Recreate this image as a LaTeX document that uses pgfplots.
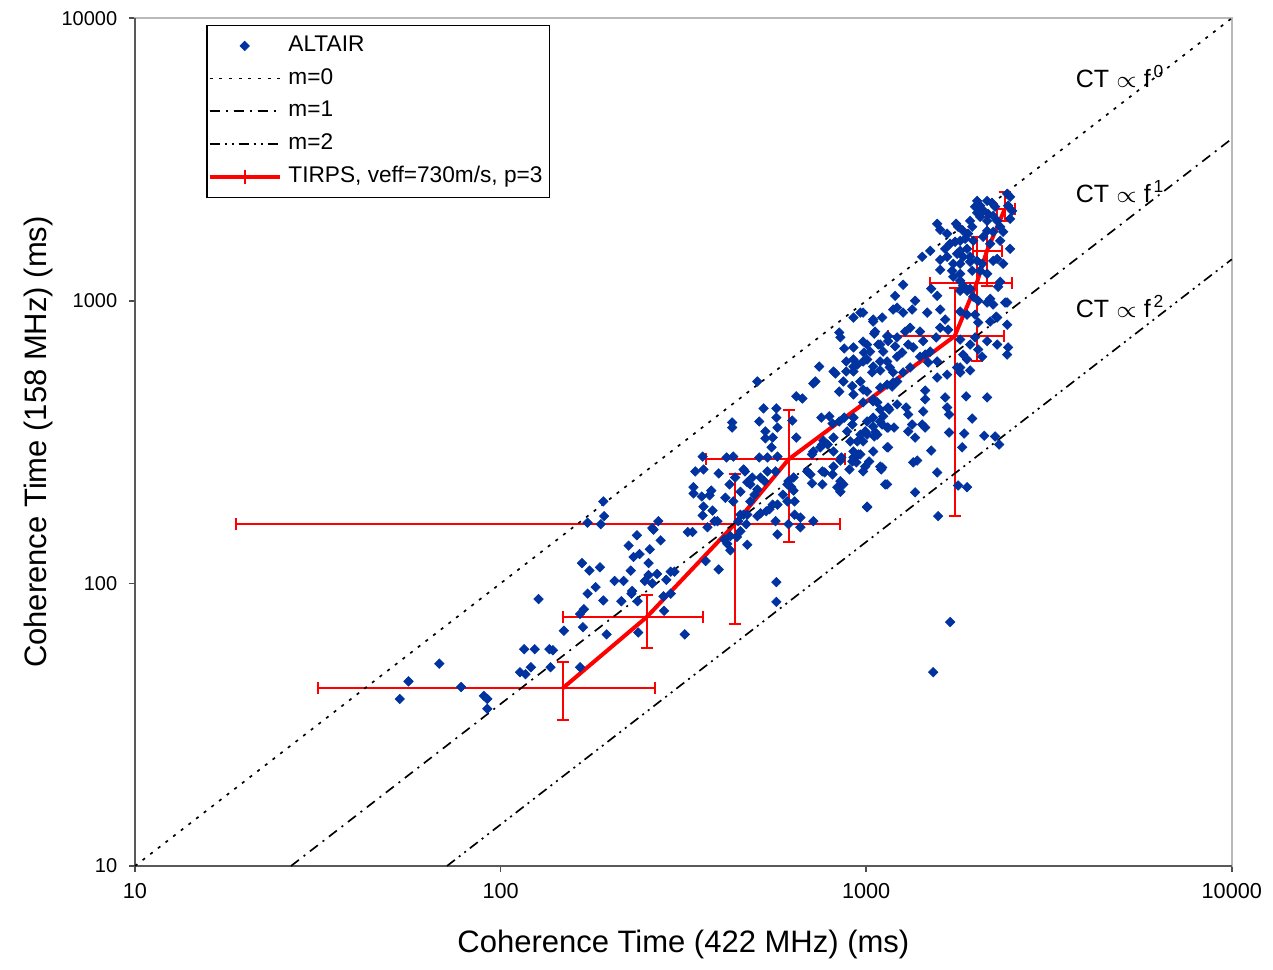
\documentclass[border=0pt]{standalone}
\usepackage{fontspec}
\setmainfont{Liberation Sans}
\usepackage{pgfplots}
\pgfplotsset{compat=1.18}
\definecolor{altair}{HTML}{0033A0}
\pgfplotsset{
  lineimg/.style={legend image code/.code={\draw[##1] (0cm,0cm) -- (0.74cm,0cm);}},
  markimg/.style={legend image code/.code={\draw[##1] plot coordinates {(0.37cm,0cm)};}},
}
\begin{document}
\begin{tikzpicture}
\begin{axis}[
  name=ax,
  xmode=log, ymode=log,
  xmin=10, xmax=10000, ymin=10, ymax=10000,
  width=329.1pt, height=254.4pt, scale only axis,
  clip=false,
  xtick={10,100,1000,10000}, ytick={10,100,1000,10000},
  xticklabels={10,100,1000,10000}, yticklabels={10,100,1000,10000},
  xminorticks=false, yminorticks=false,
  tick pos=left, tick align=outside,
  major tick length=1.8pt,
  tick style={black!70, line width=0.5pt},
  axis line style={draw=gray!55, line width=0.6pt},
  xticklabel style={font=\fontsize{6.5}{7}\selectfont},
  yticklabel style={font=\fontsize{6}{7}\selectfont},
  xlabel={Coherence Time (422 MHz) (ms)},
  ylabel={Coherence Time (158 MHz) (ms)},
  label style={font=\fontsize{9.3}{11}\selectfont},
  xlabel style={at={(axis description cs:0.5,-0.092)}, anchor=center},
  ylabel style={at={(axis description cs:-0.088,0.5)}, anchor=center},
  legend style={at={(axis description cs:0.065,0.992)}, anchor=north west,
    draw=black, line width=0.4pt, font=\fontsize{6.8}{8}\selectfont,
    legend cell align=left, row sep=-0.4pt, inner xsep=0.2pt, inner ysep=1pt},
]
% frame: dark left/bottom
\draw[black!65, line width=0.7pt] (rel axis cs:0,1) -- (rel axis cs:0,0) -- (rel axis cs:1,0);

% TIRPS model with error bars (drawn under the scatter)
\addplot[red, line width=1.2pt, forget plot,
  error bars/.cd, x dir=both, x explicit, y dir=both, y explicit,
  error bar style={red, line width=0.6pt},
  error mark options={red, line width=0.6pt, mark size=1.8pt, rotate=90}]
coordinates {
(148,42.6) += (116,10.1) -= (116.3,9.8)
(251,76) += (106,14.9) -= (103,17)
(437,162) += (410,81.6) -= (418.1,90.2)
(614,275) += (260,135) -= (250,135)
(1746,750) += (632,358) -= (600,577)
(2006,1154) += (494,525) -= (513,543)
(2138,1498) += (211,477) -= (182,372)
(2393,2109) += (154,313) -= (118,197)
};

% ALTAIR measurements
\addplot[only marks, mark=square*, mark size=1.0pt,
  mark options={rotate=45, fill=altair, draw=altair, line width=0.2pt}, markimg]
coordinates {
(53,39)(56,45)(68,52)(78,43)(90,40)(92,39)(92,36)(127,88)(116,58.5)(124,58.5)(136,58.5)(139,58)
(113,48.5)(117,47.7)(121,50.5)(137,50.5)(149,68)(165,50.5)(167,118)(175,111)(187,114)(173,92)
(182,97)(169,81)(165,78)(168,70)(191,87)(195,66)(173,164)(188,162)(192,173)(191,195)(205,102)
(217,102)(214,86.5)(227,111)(228,92)(229,94)(237,86.5)(238,67)(231,124)(240,127)(254,118)
(256,132)(224,136)(236,148)(260,157)(270,166)(274,142)(248,102)(254,107)(260,100)(268,108)
(284,103)(292,110)(299,110)(279,90)(292,92)(280,80)
(262,155)(325,152)(335,152)(368,158)(385,166)(392,166)(357,174)(380,181)(359,187)(337,208)
(337,219)(355,203)(373,205)(377,213)(341,249)(359,253)(395,245)(357,281)(415,279)(433,281)
(423,224)(412,201)(433,195)(453,175)(447,166)(462,253)(488,237)(482,224)(514,237)(510,279)
(537,279)(572,281)(537,249)(565,249)(551,303)(555,328)(530,326)(530,345)(510,374)(524,416)
(568,416)(568,386)(572,356)(628,377)(644,328)(430,356)(430,371)(504,518)(644,459)(669,451)
(726,518)(717,510)(744,585)(844,477)(824,553)(814,562)(866,518)(850,742)(844,772)(871,678)
(923,684)(882,610)(923,620)(946,595)(981,610)(981,717)(1006,700)(986,656)(1025,661)(1052,765)
(1045,858)(1106,872)(923,872)(964,908)(923,585)(923,562)(882,562)(916,499)(964,518)(981,485)
(1038,558)(1045,585)(1092,567)(1092,610)(1141,610)(1160,581)(1185,558)(1215,518)(1177,497)
(1141,505)(1092,700)(1113,661)(1141,750)(1148,720)(1215,946)(1200,1041)(1200,690)(1215,634)
(923,466)(981,437)(1045,448)(1072,437)(1092,412)(1156,412)(1113,390)(1045,386)(1006,374)
(1092,374)(1141,356)(1192,356)(994,345)(1052,331)(1058,343)(964,336)(946,318)(905,318)
(923,293)(964,286)(923,279)(940,268)(994,259)(1092,259)(1099,253)(1141,303)(900,253)(850,230)
(834,219)(809,243)(770,247)(759,224)(814,259)(850,272)(855,279)(814,293)(785,310)(759,310)
(749,303)(764,320)(717,293)(814,328)(887,345)(917,365)(923,386)(871,386)(844,374)(793,390)
(809,368)(754,386)(711,286)(690,249)(704,243)(711,226)(759,249)(609,224)(613,230)(633,237)
(624,219)(633,213)(637,195)(637,175)(609,195)(592,206)(572,190)(555,190)(533,180)(544,183)
(504,173)(514,177)(473,175)(482,195)(495,206)(504,215)(527,230)(466,249)(473,228)(438,237)
(453,211)(462,175)(470,162)(453,153)(425,147)(443,146)(409,143)(417,138)(572,149)(565,166)
(613,162)(661,158)(661,171)(717,166)(1006,187)(1127,224)(850,211)(866,224)(917,270)(952,286)
(2011,2257)(2050,2169)(2142,2257)(2209,2220)(2252,2152)(2090,2081)(2011,2047)(2050,1981)
(2155,2031)(2225,1997)(2142,1918)(2282,1918)(1986,2152)(2430,2391)(2475,2332)(2445,2169)
(2507,2081)(2475,1950)(2325,1828)(2370,1754)(1564,1873)(1594,1783)(1665,1727)(1762,1873)
(1785,1828)(1842,1768)(1925,1918)(1950,1828)(1900,1727)(1865,1657)(1808,1630)(1751,1617)
(1697,1591)(1808,1502)(1888,1527)(1963,1630)(1842,1431)(1925,1431)(1773,1467)(1808,1352)
(1730,1352)(1718,1277)(1808,1246)(1925,1374)(2011,1385)(2077,1352)(1950,1277)(2050,1277)
(2142,1246)(2225,1385)(2282,1407)(2090,1684)(2225,1754)(2142,1768)(2184,1591)(2325,1630)
(2475,1527)(2370,1352)(1645,1527)(1665,1431)(1594,1396)(1594,1287)(1423,1431)(1497,1502)
(1730,1216)(1808,1177)(1842,1130)(1888,1085)(1925,1103)(1963,1033)(2025,1000)(2142,986)
(2225,970)(2325,1167)(2295,1121)(2400,986)(1262,1139)(1185,931)(1262,908)(1336,931)
(1361,1000)(1506,1103)(1564,1041)(1469,908)(1594,931)(1645,858)(1676,790)(1594,803)
(1554,742)(1497,661)(1404,778)(1432,720)(1319,803)(1278,778)(1215,742)(1148,750)(1303,700)
(1345,684)(1254,656)(1404,634)(1450,645)(1478,605)(1564,610)(1058,778)(1045,844)(981,908)
(1079,700)(1006,620)(1808,916)(1888,893)(1808,1085)(1986,893)(2025,838)(2184,1016)
(2184,844)(2282,872)(2430,823)(2142,720)(2282,700)(2445,684)(2430,645)(1925,700)(1986,742)
(1808,729)(1842,645)(1888,620)(2025,672)(2077,634)(1808,581)(1773,581)(2430,986)(2267,879)
(1645,455)(1877,459)(2142,455)(1564,535)(1665,548)(1808,558)(1925,567)(1665,419)(1686,396)
(1950,383)(1450,481)(1450,448)(1432,406)(1286,419)(1303,396)(1336,365)(1423,365)(1450,356)
(1303,345)(1361,328)(1686,342)(1854,339)(2103,333)(2252,331)(2310,310)(1831,303)(1506,295)
(1345,268)(1379,272)(1564,247)(1106,257)(981,249)(1148,303)(1045,293)(1019,270)(1141,224)
(1361,210)(1785,222)(1888,219)(1006,186)(1573,173)(1045,359)(1106,365)(1148,356)(1072,336)
(981,318)(1006,336)(1262,558)(1319,581)(1185,514)(1092,493)(1045,441)(1006,477)(1148,419)
(1215,430)
(1525,48.5)(1697,73)(568,101)(568,86)(364,120)(395,112)(425,131)(473,137)(319,66)
};
\addlegendentry{ALTAIR}

% CT proportional to f^m, m = 0, 1, 2  (ratio 158/422)
\addplot[black, line width=0.5pt, dash pattern=on 0.9pt off 2pt, lineimg]
coordinates {(10,10) (10000,10000)};
\addlegendentry{m=0}
\addplot[black, line width=0.5pt, dash pattern=on 3pt off 1.8pt on 0.6pt off 1.8pt, lineimg]
coordinates {(26.71,10) (10000,3744)};
\addlegendentry{m=1}
\addplot[black, line width=0.5pt, dash pattern=on 3pt off 1.5pt on 0.6pt off 1.5pt on 0.6pt off 1.5pt, lineimg]
coordinates {(71.34,10) (10000,1402)};
\addlegendentry{m=2}

\addlegendimage{legend image code/.code={
  \draw[red, line width=1.2pt] (0cm,0cm) -- (0.74cm,0cm);
  \draw[red, line width=0.6pt] (0.37cm,-2.2pt) -- (0.37cm,2.2pt);}}
\addlegendentry{TIRPS, veff=730m/s, p=3}

\node[anchor=west, inner sep=0pt, font=\fontsize{7.5}{9}\selectfont] at (axis cs:3730,6200) {CT $\propto$ f\textsuperscript{\,0}};
\node[anchor=west, inner sep=0pt, font=\fontsize{7.5}{9}\selectfont] at (axis cs:3730,2430) {CT $\propto$ f\textsuperscript{\,1}};
\node[anchor=west, inner sep=0pt, font=\fontsize{7.5}{9}\selectfont] at (axis cs:3730,955) {CT $\propto$ f\textsuperscript{\,2}};
\end{axis}
% page frame matching the reference proportions
\path (ax.south west) ++(-40.5pt,-29.1pt) coordinate (bl);
\path (ax.north east) ++(12.3pt,4.2pt) coordinate (tr);
\path (bl) rectangle (tr);
\end{tikzpicture}
\end{document}
